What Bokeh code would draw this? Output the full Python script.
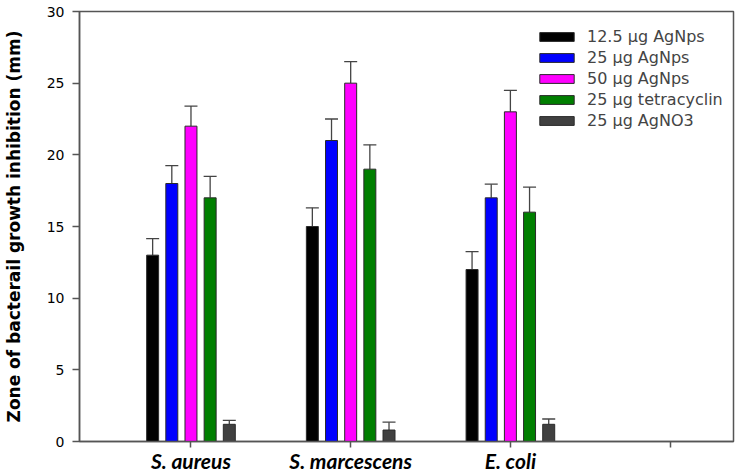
from bokeh.plotting import figure
from bokeh.models import (ColumnDataSource, Range1d, FixedTicker, Whisker, TeeHead,
                          Legend, LegendItem)
from bokeh.embed import file_html
from bokeh.resources import INLINE

# ---- data ----
categories = ["S. aureus", "S. marcescens", "E. coli", ""]
treatments = ["12.5 μg AgNps", "25 μg AgNps", "50 μg AgNps", "25 μg tetracyclin", "25 μg AgNO3"]
colors = ["#000000", "#0000ff", "#ff00ff", "#007f00", "#404040"]

ag125 = [13.0, 15.0, 12.0]
ag25 = [18.0, 21.0, 17.0]
ag50 = [22.0, 25.0, 23.0]
tetra = [17.0, 19.0, 16.0]
agno3 = [1.2, 0.8, 1.2]

ag125_err = [1.15, 1.3, 1.25]
ag25_err = [1.25, 1.5, 0.95]
ag50_err = [1.4, 1.5, 1.5]
tetra_err = [1.5, 1.7, 1.75]
agno3_err = [0.27, 0.55, 0.37]

series = [ag125, ag25, ag50, tetra, agno3]
errors = [ag125_err, ag25_err, ag50_err, tetra_err, agno3_err]

# ---- figure ----
p = figure(width=740, height=475, x_range=Range1d(0.302, 4.397), y_range=Range1d(0, 30),
           output_backend="svg", toolbar_location=None,
           min_border_left=79, min_border_right=7, min_border_top=11, min_border_bottom=33)
p.background_fill_color = "white"
p.border_fill_color = "white"
p.outline_line_color = "#555555"
p.outline_line_width = 1.5
p.xgrid.visible = False
p.ygrid.visible = False

step = 0.12
bar_w = 0.075
items = []
for i, (vals, errs, name, col) in enumerate(zip(series, errors, treatments, colors)):
    xs = [k + 1 + (i - 2) * step for k in range(len(vals))]
    src = ColumnDataSource(dict(x=xs, top=vals, upper=[v + e for v, e in zip(vals, errs)]))
    r = p.vbar(x="x", top="top", bottom=0, width=bar_w, source=src,
               fill_color=col, line_color="#2a2a2a", line_width=1)
    w = Whisker(source=src, base="x", lower="top", upper="upper", dimension="height",
                line_color="#444444", line_width=1.3,
                upper_head=TeeHead(size=13, line_color="#444444", line_width=1.3),
                lower_head=None)
    p.add_layout(w)
    items.append(LegendItem(label=name, renderers=[r]))

legend = Legend(items=items, location=(450, 305), glyph_width=43, glyph_height=11,
                label_text_font="DejaVu Sans", label_text_font_size="16px",
                label_height=18, spacing=2, padding=6, margin=0,
                label_standoff=9, border_line_alpha=0, background_fill_alpha=0)
p.add_layout(legend)

# x axis
p.xaxis.ticker = FixedTicker(ticks=[1, 2, 3, 4])
p.xaxis.major_label_overrides = {k + 1: c for k, c in enumerate(categories)}
p.xaxis.major_label_text_font = "Lato"
p.xaxis.major_label_text_font_style = "bold italic"
p.xaxis.major_label_text_font_size = "21px"
p.xaxis.major_label_text_color = "black"
p.xaxis.major_label_standoff = 0
p.xaxis.major_tick_out = 6
p.xaxis.major_tick_in = 0
p.xaxis.minor_tick_line_color = None
p.xaxis.axis_line_color = "#555555"
p.xaxis.axis_line_width = 1.5
p.xaxis.major_tick_line_color = "#555555"
p.xaxis.major_tick_line_width = 1.5

# y axis
p.yaxis.ticker = FixedTicker(ticks=[0, 5, 10, 15, 20, 25, 30])
p.yaxis.major_label_text_font = "DejaVu Sans"
p.yaxis.major_label_text_font_size = "14px"
p.yaxis.major_label_text_color = "black"
p.yaxis.major_label_standoff = 8
p.yaxis.major_tick_out = 7
p.yaxis.major_tick_in = 0
p.yaxis.minor_tick_line_color = None
p.yaxis.axis_line_color = "#555555"
p.yaxis.axis_line_width = 1.5
p.yaxis.major_tick_line_color = "#555555"
p.yaxis.major_tick_line_width = 1.5
p.yaxis.axis_label = "Zone of bacterail growth inhibition (mm)"
p.yaxis.axis_label_text_font = "DejaVu Sans"
p.yaxis.axis_label_text_font_style = "bold"
p.yaxis.axis_label_text_font_size = "17px"
p.yaxis.axis_label_text_color = "black"
p.yaxis.axis_label_standoff = 20

open("out.html", "w").write(file_html(p, INLINE))
